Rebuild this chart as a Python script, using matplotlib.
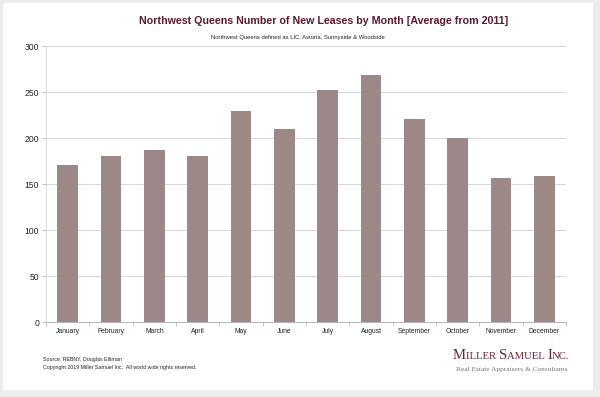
import matplotlib
matplotlib.use("Agg")
import matplotlib.pyplot as plt
from matplotlib.patches import Rectangle

months = ["January", "February", "March", "April", "May", "June", "July",
          "August", "September", "October", "November", "December"]
leases = [171, 180, 187, 180, 229, 210, 252, 268, 221, 200, 157, 159]
yticks = [0, 50, 100, 150, 200, 250, 300]

title = "Northwest Queens Number of New Leases by Month [Average from 2011]"
subtitle = "Northwest Queens defined as LIC, Astoria, Sunnyside & Woodside"
source = "Source: REBNY, Douglas Elliman"
copyright_txt = "Copyright 2019 Miller Samuel Inc.  All world wide rights reserved."

plt.rcParams['font.family'] = ['Liberation Sans', 'DejaVu Sans']

W, H = 600, 397
fig = plt.figure(figsize=(6, 3.97), dpi=100)
fig.patch.set_facecolor("#ececec")
# white panel inside the grey frame
fig.patches.append(Rectangle((3 / W, 1 - 390 / H), 590 / W, 387 / H,
                             transform=fig.transFigure, facecolor="white",
                             edgecolor="none", zorder=-5))

ax = fig.add_axes([46 / W, 1 - 322 / H, 520 / W, 276 / H])
ax.set_facecolor("none")
x = list(range(len(months)))
ax.bar(x, leases, width=0.47, color="#9c8886", zorder=3)

ax.set_xlim(-0.5, len(months) - 0.5)
ax.set_ylim(0, 300)
ax.set_yticks(yticks)
ax.set_yticklabels([str(v) for v in yticks], fontsize=6.2, color="#222222")
ax.set_xticks(x)
ax.set_xticklabels(months, fontsize=4.9, color="#222222")
ax.tick_params(axis="x", length=0, pad=4)
ax.tick_params(axis="y", length=3, width=0.5, color="#aaaaaa", pad=2)
ax.set_xticks([i + 0.5 for i in range(-1, len(months))], minor=True)
ax.tick_params(axis="x", which="minor", length=3, width=0.5, color="#aaaaaa")

ax.grid(axis="y", color="#d6d6d6", linewidth=0.7, zorder=0)
for s in ["top", "right"]:
    ax.spines[s].set_visible(False)
ax.spines["left"].set_color("#cccccc")
ax.spines["left"].set_linewidth(0.5)
ax.spines["bottom"].set_color("#aaaaaa")
ax.spines["bottom"].set_linewidth(0.6)

fig.text(324 / W, 1 - 21 / H, title, ha="center", va="center",
         fontsize=7.7, fontweight="bold", color="#5a1a2a")
fig.text(298 / W, 1 - 37.5 / H, subtitle, ha="center", va="center",
         fontsize=4.2, color="#222222")

fig.text(43 / W, 1 - 359 / H, source, ha="left", va="center",
         fontsize=3.8, color="#222222")
fig.text(43 / W, 1 - 368 / H, copyright_txt, ha="left", va="center",
         fontsize=3.8, color="#222222")

# logo in small caps, built piece by piece
logo_color = "#6a2433"
pieces = [("M", 10.6), ("ILLER ", 7.7), ("S", 10.6), ("AMUEL ", 7.7),
          ("I", 10.6), ("NC.", 7.7)]
logo_texts = []
for txt, size in pieces:
    logo_texts.append(fig.text(0, 0, txt, ha="left", va="baseline", fontsize=size,
                               family="Liberation Serif", color=logo_color))
fig.canvas.draw()
renderer = fig.canvas.get_renderer()
x0 = 453
for t in logo_texts:
    t.set_position((x0 / W, 1 - 359 / H))
    x0 += t.get_window_extent(renderer).width
fig.text(456 / W, 1 - 370 / H, "Real Estate Appraisers & Consultants",
         ha="left", va="center", fontsize=5.3, family="Liberation Serif",
         color="#777777")

fig.savefig("out.png", dpi=100, facecolor=fig.get_facecolor())
